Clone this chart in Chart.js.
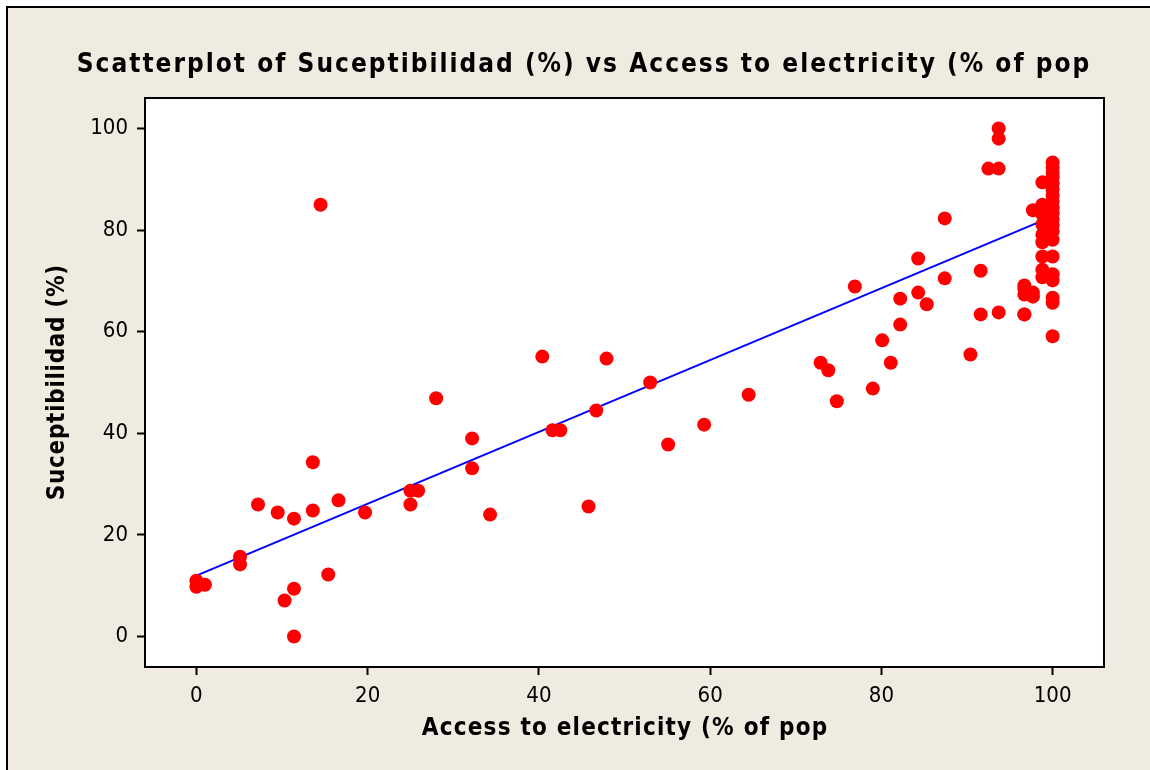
<!DOCTYPE html>
<html>
<head>
<meta charset="utf-8">
<script src="https://cdn.jsdelivr.net/npm/chart.js@4"></script>
<style>
  html, body { margin: 0; padding: 0; background: #fff; }
  #wrap { width: 1150px; height: 770px; }
</style>
</head>
<body>
<div id="wrap"><canvas id="chart" width="1150" height="770"></canvas></div>
<script>
// ── data ──
const accessX = [
  0, 0, 1.0, 5.1, 5.1, 7.2, 9.5, 10.3, 11.4, 11.4, 11.4, 13.6, 13.6, 14.5, 15.4, 16.6, 19.7,
  25.0, 25.0, 25.9, 28.0, 32.2, 32.2, 34.3, 40.4, 41.6, 42.5, 45.8, 46.7, 47.9, 53.0, 55.1,
  59.3, 64.5, 72.9, 73.8, 74.8, 76.9, 79.0, 80.1, 81.1, 82.2, 82.2, 84.3, 84.3, 85.3, 87.4,
  87.4, 90.4, 91.6, 91.6, 92.5, 93.7, 93.7, 93.7, 93.7,
  96.7, 96.7, 96.7, 96.7, 96.7, 97.7, 97.7, 97.7,
  98.8, 98.8, 98.8, 98.8, 98.8, 98.8, 98.8, 98.8, 98.8,
  100, 100, 100, 100, 100, 100, 100, 100, 100, 100, 100, 100, 100, 100, 100, 100, 100, 100, 100, 100
];
const suceptY = [
  11.0, 9.8, 10.2, 15.7, 14.2, 26.0, 24.4, 7.1, 23.2, 9.4, 0, 34.3, 24.8, 85.0, 12.2, 26.8, 24.4,
  28.7, 26.0, 28.7, 46.9, 39.0, 33.1, 24.0, 55.1, 40.6, 40.6, 25.6, 44.5, 54.7, 50.0, 37.8,
  41.7, 47.6, 53.9, 52.4, 46.3, 68.9, 48.8, 58.3, 53.9, 66.5, 61.4, 74.4, 67.7, 65.4, 82.3,
  70.5, 55.5, 72.0, 63.4, 92.1, 92.1, 100, 98.0, 63.8,
  63.4, 68.5, 67.3, 69.1, 63.4, 83.9, 67.7, 66.9,
  89.4, 85.0, 83.1, 81.1, 79.1, 77.6, 74.8, 72.2, 70.7,
  93.3, 92.3, 91.3, 90.4, 89.2, 88.0, 86.8, 85.6, 84.4, 83.3, 82.1, 80.9, 79.7, 78.1, 74.8, 71.3, 70.1, 66.7, 65.7, 59.1
];
const fitX = [0, 100];
const fitY = [12.0, 82.7];
const tickVals = [0, 20, 40, 60, 80, 100];

const titleText  = 'Scatterplot of Suceptibilidad (%) vs Access to electricity (% of pop';
const xTitleText = 'Access to electricity (% of pop';
const yTitleText = 'Suceptibilidad (%)';

const FONT = "'DejaVu Sans Condensed', 'DejaVu Sans', sans-serif";
const BG   = '#efebe0';

// spaced-out bold text, the way the original renders its titles
function spacedText(ctx, text, x, y, size, spacing, rot) {
  ctx.save();
  ctx.translate(x, y);
  if (rot) ctx.rotate(rot);
  ctx.fillStyle = '#000';
  ctx.font = `bold ${size}px ${FONT}`;
  ctx.letterSpacing = spacing + 'px';
  ctx.textAlign = 'center';
  ctx.textBaseline = 'middle';
  ctx.fillText(text, spacing / 2, 0);
  ctx.restore();
}

// page frame, white plot box and the titles
const frame = {
  id: 'frame',
  beforeDraw(chart) {
    const { ctx, chartArea: a } = chart;
    ctx.save();
    ctx.fillStyle = '#fff';
    ctx.fillRect(0, 0, chart.width, chart.height);
    ctx.fillStyle = BG;
    ctx.fillRect(7, 7, chart.width - 7, chart.height - 7);
    ctx.strokeStyle = '#000';
    ctx.lineWidth = 2;
    ctx.beginPath();
    ctx.moveTo(7, chart.height);
    ctx.lineTo(7, 7);
    ctx.lineTo(chart.width, 7);
    ctx.stroke();
    ctx.fillStyle = '#fff';
    ctx.fillRect(a.left, a.top, a.right - a.left, a.bottom - a.top);
    ctx.restore();

    const cx = (a.left + a.right) / 2;
    const cy = (a.top + a.bottom) / 2;
    spacedText(ctx, titleText, 583, 65, 26, 2);
    spacedText(ctx, xTitleText, cx, 729, 24, 1.2);
    spacedText(ctx, yTitleText, 58, cy, 24, 0.7, -Math.PI / 2);
  },
  afterDraw(chart) {
    const { ctx, chartArea: a } = chart;
    ctx.save();
    ctx.strokeStyle = '#000';
    ctx.lineWidth = 2;
    ctx.strokeRect(a.left, a.top, a.right - a.left, a.bottom - a.top);
    ctx.restore();
  },
};

const axisCommon = {
  type: 'linear',
  min: -6,
  max: 106,
  afterBuildTicks: s => { s.ticks = tickVals.map(v => ({ value: v })); },
  grid: { drawOnChartArea: false, drawTicks: true, tickLength: 8, tickWidth: 2, tickColor: '#000' },
  border: { display: false },
};

new Chart(document.getElementById('chart'), {
  type: 'scatter',
  data: {
    datasets: [
      {
        label: 'points',
        data: accessX.map((x, i) => ({ x, y: suceptY[i] })),
        backgroundColor: '#ff0000',
        borderWidth: 0,
        pointRadius: 7,
        pointHoverRadius: 7,
      },
      {
        label: 'fit',
        type: 'line',
        data: fitX.map((x, i) => ({ x, y: fitY[i] })),
        borderColor: '#0000ff',
        borderWidth: 2,
        pointRadius: 0,
        fill: false,
      },
    ],
  },
  options: {
    responsive: false,
    devicePixelRatio: 1,
    animation: false,
    layout: { padding: { left: 0, right: 46, top: 98, bottom: 0 } },
    plugins: { legend: { display: false }, tooltip: { enabled: false }, title: { display: false } },
    scales: {
      x: {
        ...axisCommon,
        afterFit: s => { s.height = 103; },
        ticks: { color: '#000', padding: 8, font: { family: FONT, size: 22 } },
      },
      y: {
        ...axisCommon,
        afterFit: s => { s.width = 145; },
        ticks: { color: '#000', padding: 9, font: { family: FONT, size: 22 } },
      },
    },
  },
  plugins: [frame],
});
</script>
</body>
</html>
